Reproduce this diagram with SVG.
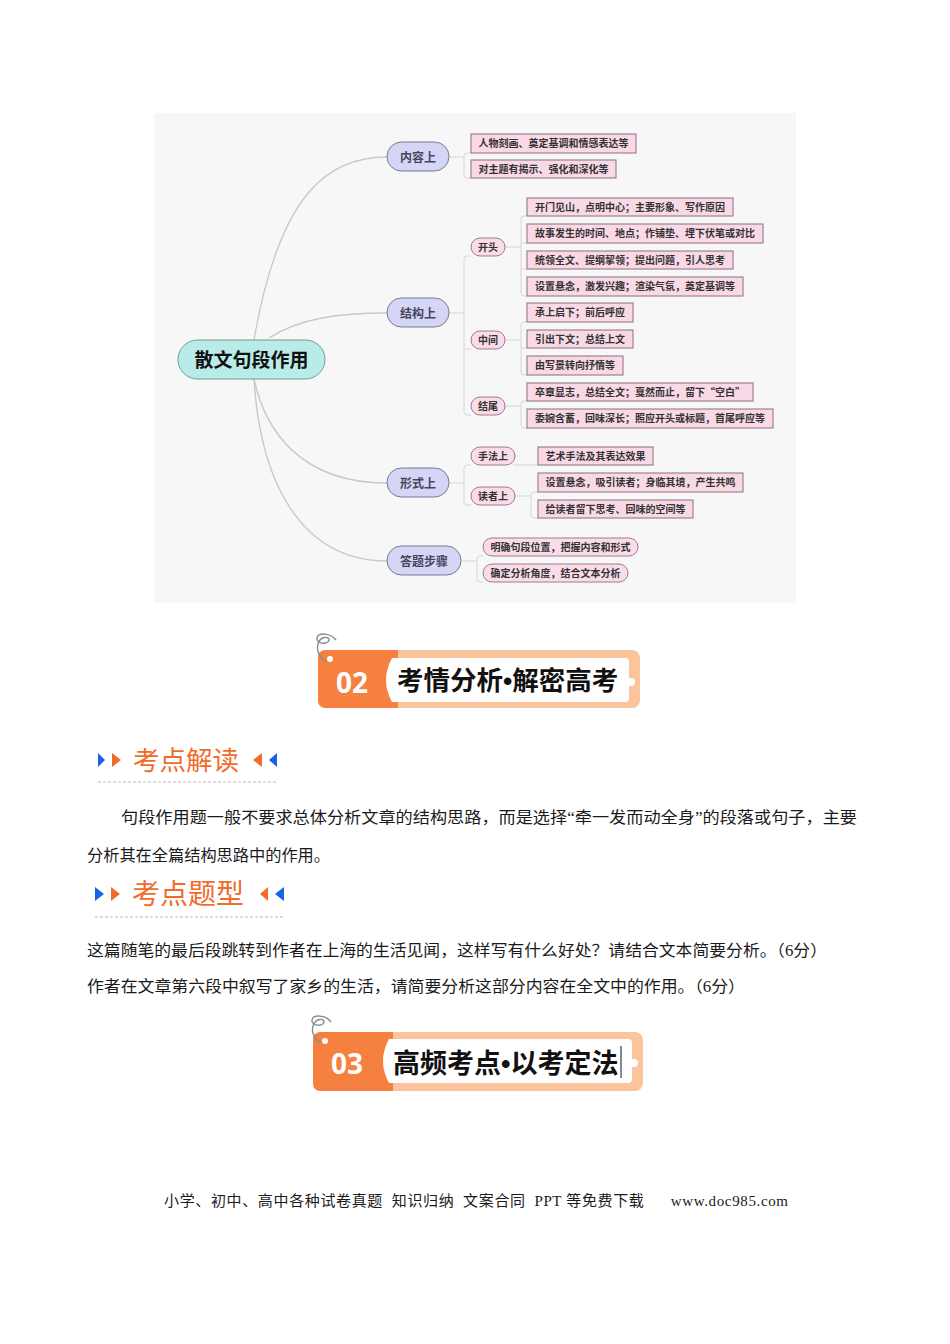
<svg xmlns="http://www.w3.org/2000/svg" width="950" height="1344" viewBox="0 0 950 1344">
<style>
.bg{fill:#f7f7f7}
.root{fill:#b9ebe8;stroke:#6f9c9a;stroke-width:1}
.l1{fill:#d5d5f6;stroke:#77779a;stroke-width:1}
.box{fill:#f9d9e6;stroke:#8c6f7d;stroke-width:1}
.pill{fill:#f9dce8;stroke:#9c7c8a;stroke-width:1}
.con{fill:none;stroke:#c9c9c9;stroke-width:1.4}
.br{fill:none;stroke:#d6d6d6;stroke-width:1}
.t{font-family:"Noto Sans CJK SC","Noto Sans",sans-serif;text-anchor:middle}
.troot{font-size:19px;font-weight:bold;fill:#111}
.tl1{font-size:12px;font-weight:bold;fill:#454560}
.tc{font-size:10px;font-weight:bold;fill:#333}
.serif{font-family:"Liberation Serif","Noto Sans CJK SC",serif;fill:#1a1a1a}
.sec{font-family:"Noto Sans CJK SC",sans-serif;fill:#f26b2b}
.blue{fill:#1763e6}
.org{fill:#f26b2b}
.dash{stroke:#bdbdbd;stroke-width:1.2;stroke-dasharray:3 2}
.frame{fill:#fcc49c}
.dark{fill:#f6803f}
.num{font-family:"Open Sans","Noto Sans",sans-serif;font-weight:bold;font-size:28px;fill:#fff;text-anchor:middle}
.ttl{font-family:"Noto Sans CJK SC",sans-serif;font-weight:bold;fill:#111}
.dot{font-family:"Liberation Sans",sans-serif}
.sq{fill:none;stroke:#8a8a8a;stroke-width:1.4}
</style>
<defs>
<path id="squig" d="M336,640 C331,633 318,632 317,638 C316,644 328,645 329,640 C330,636 320,636 318,644 C316,651 320,658 326,661"/>
</defs>
<rect width="950" height="1344" fill="#fff"/>
<rect class="bg" x="154" y="113" width="642" height="490"/>

<g id="connectors">
<path class="con" d="M254,340 C280,190 330,157 387,157"/>
<path class="con" d="M269,338 C300,318 340,313 387,313"/>
<path class="con" d="M254,379 C265,430 300,483 387,483"/>
<path class="con" d="M254,379 C260,480 300,561 387,561"/>
<path class="br" d="M449,157 H464 M471,153 H467 Q464,153 464,156 V175 Q464,178 467,178 H471"/>
<path class="br" d="M449,313 H464 M471,256 H467 Q464,256 464,259 V412 Q464,415 467,415 H471 M464,349 H471"/>
<path class="br" d="M505,247 H521 M527,216 H524 Q521,216 521,219 V293 Q521,296 524,296 H527 M521,243 H527 M521,269 H527"/>
<path class="br" d="M505,340 H521 M527,322 H524 Q521,322 521,325 V372 Q521,375 524,375 H527 M521,348 H527"/>
<path class="br" d="M505,406 H521 M527,401 H524 Q521,401 521,404 V425 Q521,428 524,428 H527"/>
<path class="br" d="M449,483 H464 M471,465 H467 Q464,465 464,468 V502 Q464,505 467,505 H471"/>
<path class="br" d="M513,465 H538"/>
<path class="br" d="M515,496 H531 M538,492 H534 Q531,492 531,495 V515 Q531,518 534,518 H538"/>
<path class="br" d="M461,561 H477 M483,556 H480 Q477,556 477,559 V579 Q477,582 480,582 H483"/>
</g>

<g id="root"><rect class="root" x="178" y="340" width="147" height="39" rx="19.5"/><text class="t troot" x="251.5" y="366.5">散文句段作用</text></g>

<g id="n-neirong"><rect class="l1" x="387" y="142" width="62" height="29" rx="14.5"/><text class="t tl1" x="418" y="161.5">内容上</text></g>
<g id="n-jiegou"><rect class="l1" x="387" y="298" width="62" height="29" rx="14.5"/><text class="t tl1" x="418" y="317.5">结构上</text></g>
<g id="n-xingshi"><rect class="l1" x="387" y="468" width="62" height="29" rx="14.5"/><text class="t tl1" x="418" y="487.5">形式上</text></g>
<g id="n-dati"><rect class="l1" x="387" y="546" width="74" height="29" rx="14.5"/><text class="t tl1" x="424" y="565.5">答题步骤</text></g>

<g id="c-nr1"><rect class="box" x="471" y="134" width="165" height="19"/><text class="t tc" x="553.5" y="147">人物刻画、奠定基调和情感表达等</text></g>
<g id="c-nr2"><rect class="box" x="471" y="160" width="145" height="18"/><text class="t tc" x="543.5" y="172.5">对主题有揭示、强化和深化等</text></g>

<g id="p-kaitou"><rect class="pill" x="471" y="238" width="34" height="18" rx="9"/><text class="t tc" x="488" y="250.5">开头</text></g>
<g id="p-zhongjian"><rect class="pill" x="471" y="331" width="34" height="18" rx="9"/><text class="t tc" x="488" y="343.5">中间</text></g>
<g id="p-jiewei"><rect class="pill" x="471" y="397" width="34" height="18" rx="9"/><text class="t tc" x="488" y="409.5">结尾</text></g>

<g id="c-kt1"><rect class="box" x="527" y="198" width="206" height="18"/><text class="t tc" x="630" y="210.5">开门见山，点明中心；主要形象、写作原因</text></g>
<g id="c-kt2"><rect class="box" x="527" y="224" width="236" height="19"/><text class="t tc" x="645" y="237">故事发生的时间、地点；作铺垫、埋下伏笔或对比</text></g>
<g id="c-kt3"><rect class="box" x="527" y="251" width="206" height="18"/><text class="t tc" x="630" y="263.5">统领全文、提纲挈领；提出问题，引人思考</text></g>
<g id="c-kt4"><rect class="box" x="527" y="277" width="216" height="19"/><text class="t tc" x="635" y="290">设置悬念，激发兴趣；渲染气氛，奠定基调等</text></g>

<g id="c-zj1"><rect class="box" x="527" y="303" width="106" height="19"/><text class="t tc" x="580" y="316">承上启下；前后呼应</text></g>
<g id="c-zj2"><rect class="box" x="527" y="330" width="106" height="18"/><text class="t tc" x="580" y="342.5">引出下文；总结上文</text></g>
<g id="c-zj3"><rect class="box" x="527" y="356" width="96" height="19"/><text class="t tc" x="575" y="369">由写景转向抒情等</text></g>

<g id="c-jw1"><rect class="box" x="527" y="383" width="226" height="18"/><text class="t tc" x="640" y="395.5">卒章显志，总结全文；戛然而止，留下“空白”</text></g>
<g id="c-jw2"><rect class="box" x="527" y="409" width="246" height="19"/><text class="t tc" x="650" y="422">委婉含蓄，回味深长；照应开头或标题，首尾呼应等</text></g>

<g id="p-shoufa"><rect class="pill" x="471" y="447" width="44" height="18" rx="9"/><text class="t tc" x="493" y="459.5">手法上</text></g>
<g id="p-duzhe"><rect class="pill" x="471" y="487" width="44" height="18" rx="9"/><text class="t tc" x="493" y="499.5">读者上</text></g>

<g id="c-sf1"><rect class="box" x="538" y="447" width="115" height="18"/><text class="t tc" x="595.5" y="459.5">艺术手法及其表达效果</text></g>
<g id="c-dz1"><rect class="box" x="538" y="473" width="205" height="19"/><text class="t tc" x="640.5" y="486">设置悬念，吸引读者；身临其境，产生共鸣</text></g>
<g id="c-dz2"><rect class="box" x="538" y="500" width="155" height="18"/><text class="t tc" x="615.5" y="512.5">给读者留下思考、回味的空间等</text></g>

<g id="c-dt1"><rect class="pill" x="483" y="538" width="155" height="18" rx="9"/><text class="t tc" x="560.5" y="550.5">明确句段位置，把握内容和形式</text></g>
<g id="c-dt2"><rect class="pill" x="483" y="564" width="145" height="18" rx="9"/><text class="t tc" x="555.5" y="576.5">确定分析角度，结合文本分析</text></g>

<g id="banner02">
<rect class="frame" x="318" y="650" width="322" height="58" rx="8"/>
<path class="dark" d="M326,650 H398 V708 H326 Q318,708 318,700 V658 Q318,650 326,650 Z"/>
<path fill="#fff" d="M625,658 H392 Q380,680 392,702 H625 Q629,702 629,698 V662 Q629,658 625,658 Z"/>
<circle cx="631" cy="682" r="4" fill="#fff"/>
<circle cx="330" cy="659" r="3" fill="#fff"/>
<use href="#squig" class="sq"/>
<text class="num" x="352" y="693">02</text>
<text class="ttl" x="397" y="690" font-size="26.5">考情分析<tspan class="dot">•</tspan>解密高考</text>
</g>

<g id="sec1">
<path class="blue" d="M98,753 L105,760 L98,767 Z"/>
<path class="org" d="M112,753 L121,760 L112,767 Z"/>
<text class="sec" x="133" y="770" font-size="26.5">考点解读</text>
<path class="org" d="M262,753 L253,760 L262,767 Z"/>
<path class="blue" d="M277,753 L269,760 L277,767 Z"/>
<line class="dash" x1="98" y1="782" x2="277" y2="782"/>
</g>

<text class="serif" x="121" y="823" font-size="16" textLength="736" lengthAdjust="spacingAndGlyphs">句段作用题一般不要求总体分析文章的结构思路，而是选择“牵一发而动全身”的段落或句子，主要</text>
<text class="serif" x="87" y="861" font-size="16" textLength="243" lengthAdjust="spacingAndGlyphs">分析其在全篇结构思路中的作用。</text>

<g id="sec2">
<path class="blue" d="M95,887 L104,894 L95,901 Z"/>
<path class="org" d="M111,887 L120,894 L111,901 Z"/>
<text class="sec" x="132" y="904" font-size="28">考点题型</text>
<path class="org" d="M268,887 L260,894 L268,901 Z"/>
<path class="blue" d="M284,887 L275,894 L284,901 Z"/>
<line class="dash" x1="95" y1="917" x2="284" y2="917"/>
</g>

<text class="serif" x="87" y="956" font-size="16" textLength="740" lengthAdjust="spacingAndGlyphs">这篇随笔的最后段跳转到作者在上海的生活见闻，这样写有什么好处？请结合文本简要分析。（6分）</text>
<text class="serif" x="87" y="992" font-size="16" textLength="658" lengthAdjust="spacingAndGlyphs">作者在文章第六段中叙写了家乡的生活，请简要分析这部分内容在全文中的作用。（6分）</text>

<g id="banner03">
<rect class="frame" x="313" y="1032" width="330" height="59" rx="8"/>
<path class="dark" d="M321,1032 H393 V1091 H321 Q313,1091 313,1083 V1040 Q313,1032 321,1032 Z"/>
<path fill="#fff" d="M628,1039 H389 Q377,1061 389,1083 H628 Q632,1083 632,1079 V1043 Q632,1039 628,1039 Z"/>
<circle cx="634" cy="1063" r="4" fill="#fff"/>
<circle cx="325" cy="1041" r="3" fill="#fff"/>
<use href="#squig" class="sq" transform="translate(-5,382)"/>
<text class="num" x="347" y="1074">03</text>
<text class="ttl" x="393" y="1073" font-size="27">高频考点<tspan class="dot">•</tspan>以考定法</text>
<line x1="621" y1="1046" x2="621" y2="1078" stroke="#111" stroke-width="1"/>
</g>

<text class="serif" x="164" y="1206" font-size="15" textLength="624" lengthAdjust="spacing" xml:space="preserve">小学、初中、高中各种试卷真题  知识归纳  文案合同  PPT 等免费下载      www.doc985.com</text>
</svg>
